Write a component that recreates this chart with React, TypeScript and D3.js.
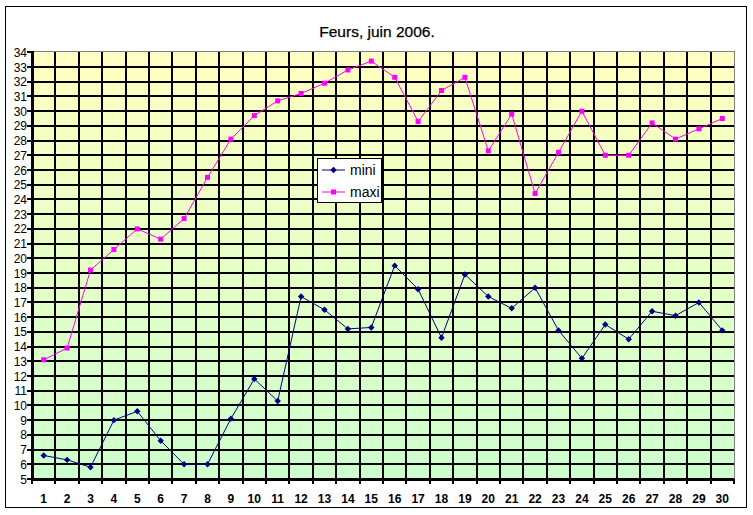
import React from "react";
import * as d3 from "d3";

const days = d3.range(1, 31);
const mini = [6.6, 6.3, 5.8, 9.0, 9.6, 7.6, 6.0, 6.0, 9.1, 11.8, 10.3, 17.4, 16.5, 15.2, 15.3, 19.5, 17.9, 14.6, 18.9, 17.4, 16.6, 18.0, 15.1, 13.2, 15.5, 14.5, 16.4, 16.1, 17.0, 15.1];
const maxi = [13.1, 13.9, 19.2, 20.6, 22.0, 21.3, 22.7, 25.5, 28.1, 29.7, 30.7, 31.2, 31.9, 32.8, 33.4, 32.3, 29.3, 31.4, 32.3, 27.3, 29.8, 24.4, 27.2, 30.0, 27.0, 27.0, 29.2, 28.1, 28.8, 29.5];
const yTicks = d3.range(5, 35);
const title = "Feurs, juin 2006.";
const seriesNames = ["mini", "maxi"];

export default function App() {
  const W = 753, H = 515;
  const L = 32, R = 734, T = 52.3, B = 479;
  const x = d3.scaleBand<number>().domain(days).range([L, R]).padding(0);
  const y = d3.scaleLinear().domain([5, 34]).range([B, T]);
  const cx = (d: number) => (x(d) as number) + x.bandwidth() / 2;
  const line = d3.line<number>().x((_, i) => cx(days[i])).y((v) => y(v));
  const boundaries = d3.range(0, days.length + 1).map((i) => Math.round(L + i * x.bandwidth()));
  const ry = (t: number) => Math.round(y(t));
  const font = "Arial, 'Liberation Sans', sans-serif";
  const diamond = (px: number, py: number, s = 3.2) => `M${px},${py - s}L${px + s},${py}L${px},${py + s}L${px - s},${py}Z`;

  return (
    <svg width={W} height={H} style={{ position: "absolute", left: 0, top: 0 }} fontFamily={font}>
      <defs>
        <linearGradient id="bg" x1="0" y1="0" x2="0" y2="1">
          <stop offset="0" stopColor="#FFFFC0" />
          <stop offset="1" stopColor="#CCFFCC" />
        </linearGradient>
      </defs>
      <rect x={0} y={0} width={W} height={H} fill="#fff" />
      <rect x={5.5} y={6.5} width={741} height={501} fill="#fff" stroke="#000" strokeWidth={1} />
      <text x={377} y={37} textAnchor="middle" fontSize={15.5} fill="#000" stroke="#000" strokeWidth={0.25}>{title}</text>
      <rect x={L} y={T} width={R - L} height={B - T} fill="url(#bg)" />
      <g shapeRendering="crispEdges">
        {yTicks.slice(1, -1).map((t) => (
          <rect key={"h" + t} x={L} y={ry(t) - 1} width={R - L} height={2} fill="#000" />
        ))}
        {boundaries.slice(1, -1).map((bx, i) => (
          <rect key={"v" + i} x={bx - 1} y={Math.round(T)} width={2} height={B - Math.round(T)} fill="#000" />
        ))}
        <rect x={L} y={Math.round(T) - 1} width={R - L} height={1} fill="#808080" />
        <rect x={R} y={Math.round(T) - 1} width={1} height={B - Math.round(T) + 1} fill="#808080" />
        <rect x={L - 1.5} y={Math.round(T) - 1} width={3} height={B - Math.round(T) + 2.5} fill="#000" />
        <rect x={L - 1.5} y={B - 1.5} width={R - L + 1.5} height={3} fill="#000" />
        {yTicks.map((t) => (
          <rect key={"yt" + t} x={L - 5} y={ry(t) - 1} width={5} height={2} fill="#000" />
        ))}
        {boundaries.map((bx, i) => (
          <rect key={"xt" + i} x={bx - 1} y={B} width={2} height={5} fill="#000" />
        ))}
      </g>
      {yTicks.map((t) => (
        <text key={"yl" + t} x={L - 5} y={y(t) + 4.5} textAnchor="end" fontSize={12} fill="#000">{t}</text>
      ))}
      {days.map((d) => (
        <text key={"xl" + d} x={cx(d)} y={503} textAnchor="middle" fontSize={12} fontWeight="bold" fill="#000">{d}</text>
      ))}
      <path d={line(maxi) || ""} fill="none" stroke="#FF00FF" strokeWidth={1} />
      {maxi.map((v, i) => (
        <rect key={"mx" + i} x={cx(days[i]) - 2.5} y={y(v) - 2.5} width={5} height={5} fill="#FF00FF" />
      ))}
      <path d={line(mini) || ""} fill="none" stroke="#000080" strokeWidth={1} />
      {mini.map((v, i) => (
        <path key={"mn" + i} d={diamond(cx(days[i]), y(v))} fill="#000080" />
      ))}
      <g>
        <rect x={317.5} y={158.5} width={64} height={44} fill="#fff" stroke="#000" strokeWidth={1} />
        <line x1={322} x2={345} y1={170} y2={170} stroke="#000080" strokeWidth={1} />
        <path d={diamond(333.5, 170)} fill="#000080" />
        <text x={350} y={175} fontSize={14} fill="#000">{seriesNames[0]}</text>
        <line x1={322} x2={345} y1={192} y2={192} stroke="#FF00FF" strokeWidth={1} />
        <rect x={331} y={189.5} width={5} height={5} fill="#FF00FF" />
        <text x={350} y={197} fontSize={14} fill="#000">{seriesNames[1]}</text>
      </g>
    </svg>
  );
}
